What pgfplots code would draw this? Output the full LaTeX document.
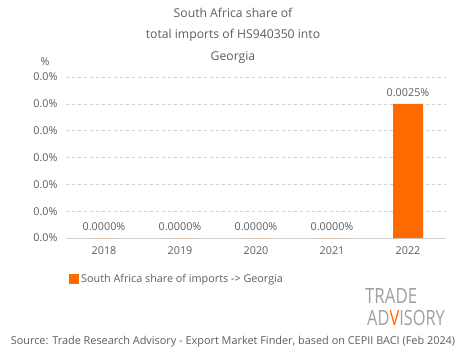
\documentclass[border=0pt]{standalone}
\usepackage{pgfplots}
\pgfplotsset{compat=1.18}
\usepackage{fontspec}
\setmainfont{Open Sans}
\definecolor{barorange}{HTML}{FF6A00}
\definecolor{txtgray}{HTML}{5E5E5E}
\definecolor{gridgray}{HTML}{D0D0D0}
\definecolor{logogray}{HTML}{A0A0A0}
\begin{document}
\begin{tikzpicture}[x=1pt,y=1pt]
\fill[white] (0,0) rectangle (465,359);
\begin{axis}[
  at={(66pt,121pt)}, anchor=south west,
  scale only axis, width=380pt, height=161pt,
  xmin=-0.5, xmax=4.5, ymin=0, ymax=0.003,
  xtick={0,1,2,3,4}, xticklabels={2018,2019,2020,2021,2022},
  ytick={0,0.0005,0.001,0.0015,0.002,0.0025,0.003},
  yticklabel={\pgfmathprintnumber[fixed,precision=1,zerofill]{\tick}\%},
  /pgf/number format/assume math mode=true,
  scaled y ticks=false,
  ymajorgrids, grid style={gridgray, dashed, line width=0.6pt},
  axis line style={draw=none},
  extra y ticks={0}, extra y tick labels={},
  extra y tick style={grid style={solid, gridgray, line width=0.8pt}},
  major tick length=0pt,
  tick label style={font=\fontsize{10.8}{12}\selectfont, text=txtgray},
  yticklabel style={xshift=-5pt},
  xticklabel style={yshift=-5pt},
  ybar, bar width=30pt,
  nodes near coords={\pgfmathprintnumber[fixed,precision=4,zerofill]{\pgfplotspointmeta}\%},
  nodes near coords style={font=\fontsize{10.8}{12}\selectfont, text=txtgray, yshift=4pt, /pgf/number format/assume math mode=true},
  legend style={at={(0,0)}, anchor=west, xshift=2pt, yshift=-41pt, draw=none, fill=none,
    font=\fontsize{10.8}{12}\selectfont, text=txtgray, inner sep=1pt},
  legend image code/.code={\fill[barorange] (0pt,-5pt) rectangle (10pt,5pt);},
]
\addplot[fill=barorange, draw=none] coordinates {(0,0) (1,0) (2,0) (3,0) (4,0.0025)};
\addlegendentry{South Africa share of imports -> Georgia}
\end{axis}
\node[text=txtgray, font=\fontsize{12.2}{14}\selectfont] at (233,346) {South Africa share of};
\node[text=txtgray, font=\fontsize{12.2}{14}\selectfont] at (233,324) {total imports of HS940350 into};
\node[text=txtgray, font=\fontsize{12.2}{14}\selectfont] at (233,302) {Georgia};
\node[text=txtgray, font=\fontsize{10.8}{12}\selectfont] at (45,297) {\%};
\node[text=logogray, font=\fontsize{21}{22}\selectfont, anchor=west, inner sep=0pt] at (365,63) {\scalebox{0.8}[1]{TRADE}};
\node[text=logogray, font=\fontsize{21}{22}\selectfont, anchor=west, inner sep=0pt] at (367,41) {\scalebox{0.78}[1]{AD\textcolor{barorange}{V}ISORY}};
\node[text=txtgray, font=\fontsize{10.9}{12}\selectfont] at (233,17) {Source: Trade Research Advisory - Export Market Finder, based on CEPII BACI (Feb 2024)};
\end{tikzpicture}
\end{document}
